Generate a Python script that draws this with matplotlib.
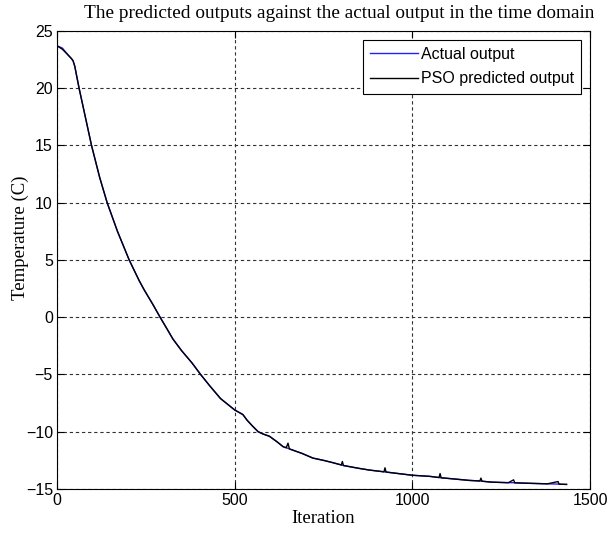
import matplotlib
matplotlib.use("Agg")
import matplotlib.pyplot as plt

# ---- data ----
iteration = [0, 15, 31, 40, 45, 50, 55, 62, 76, 97, 120, 141, 170, 203, 231, 245, 270,
             290, 310, 326, 350, 380, 404, 430, 460, 480, 500, 523, 535, 550, 566, 580,
             598, 620, 636, 645, 650, 654, 690, 720, 750, 776, 800, 803, 806, 850, 880,
             920, 923, 926, 960, 1000, 1050, 1075, 1078, 1081, 1109, 1160, 1190, 1193,
             1196, 1222, 1270, 1285, 1288, 1326, 1380, 1410, 1413, 1434]
actual_output = [23.7, 23.5, 22.9, 22.6, 22.4, 21.9, 21.1, 20.0, 18.0, 15.0, 12.2, 10.0,
                 7.5, 5.0, 3.2, 2.4, 1.1, 0.0, -1.05, -1.9, -2.9, -4.0, -5.0, -6.0,
                 -7.1, -7.6, -8.1, -8.5, -9.0, -9.5, -10.0, -10.2, -10.4, -10.9, -11.3,
                 -11.4, -11.45, -11.5, -11.9, -12.3, -12.5, -12.7, -12.9, -12.92, -12.95,
                 -13.2, -13.35, -13.5, -13.5, -13.52, -13.65, -13.8, -13.9, -14.0, -14.0,
                 -14.02, -14.1, -14.25, -14.3, -14.3, -14.32, -14.4, -14.45, -14.45,
                 -14.46, -14.5, -14.55, -14.57, -14.58, -14.6]
pso_predicted = [23.7, 23.4, 22.9, 22.6, 22.4, 21.9, 21.1, 20.0, 18.0, 15.0, 12.2, 10.0,
                 7.5, 5.0, 3.2, 2.4, 1.1, 0.0, -1.05, -1.9, -2.9, -4.0, -5.0, -6.0,
                 -7.1, -7.6, -8.1, -8.5, -9.0, -9.5, -10.0, -10.2, -10.4, -10.9, -11.3,
                 -11.4, -11.0, -11.5, -11.9, -12.3, -12.5, -12.7, -12.9, -12.6, -12.95,
                 -13.2, -13.35, -13.5, -13.15, -13.52, -13.65, -13.8, -13.9, -14.0, -13.65,
                 -14.02, -14.1, -14.25, -14.3, -14.05, -14.32, -14.4, -14.45, -14.2,
                 -14.46, -14.5, -14.55, -14.35, -14.58, -14.6]

x_ticks = [0, 500, 1000, 1500]
y_ticks = [-15, -10, -5, 0, 5, 10, 15, 20, 25]
title = "The predicted outputs against the actual output in the time domain"

fig = plt.figure(figsize=(6.07, 5.37), dpi=100)
ax = fig.add_axes([0.094, 0.0894, 0.878, 0.853])

ax.plot(iteration, actual_output, color="#2020ff", lw=1.0, label="Actual output")
ax.plot(iteration, pso_predicted, color="black", lw=1.0, label="PSO predicted output")

ax.set_xlim(0, 1500)
ax.set_ylim(-15, 25)
ax.set_xticks(x_ticks)
ax.set_yticks(y_ticks)

sans = ["Liberation Sans", "DejaVu Sans"]
serif = ["Liberation Serif", "DejaVu Serif"]
for lab in ax.get_xticklabels() + ax.get_yticklabels():
    lab.set_family(sans)
    lab.set_fontsize(11.5)

ax.tick_params(direction="in", length=5, width=0.8, top=True, right=True, pad=3)
ax.grid(True, color="#333333", linestyle=(0, (3, 2.5)), linewidth=0.8)
for s in ax.spines.values():
    s.set_linewidth(0.8)

ax.set_title(title, family=serif, fontsize=13.9, pad=9, x=0.529)
ax.set_xlabel("Iteration", family=serif, fontsize=13.5, labelpad=1)
ax.set_ylabel("Temperature (C)", family=serif, fontsize=13.5)
ax.yaxis.set_label_coords(-0.052, 0.548)

leg = ax.legend(loc="upper right", prop={"family": sans, "size": 11.5}, frameon=True,
                fancybox=False, edgecolor="black", framealpha=1, handlelength=3.0,
                borderaxespad=0.55, labelspacing=0.6, handletextpad=0.2, borderpad=0.45)
leg.get_frame().set_linewidth(0.8)

fig.savefig("out.png", dpi=100)
